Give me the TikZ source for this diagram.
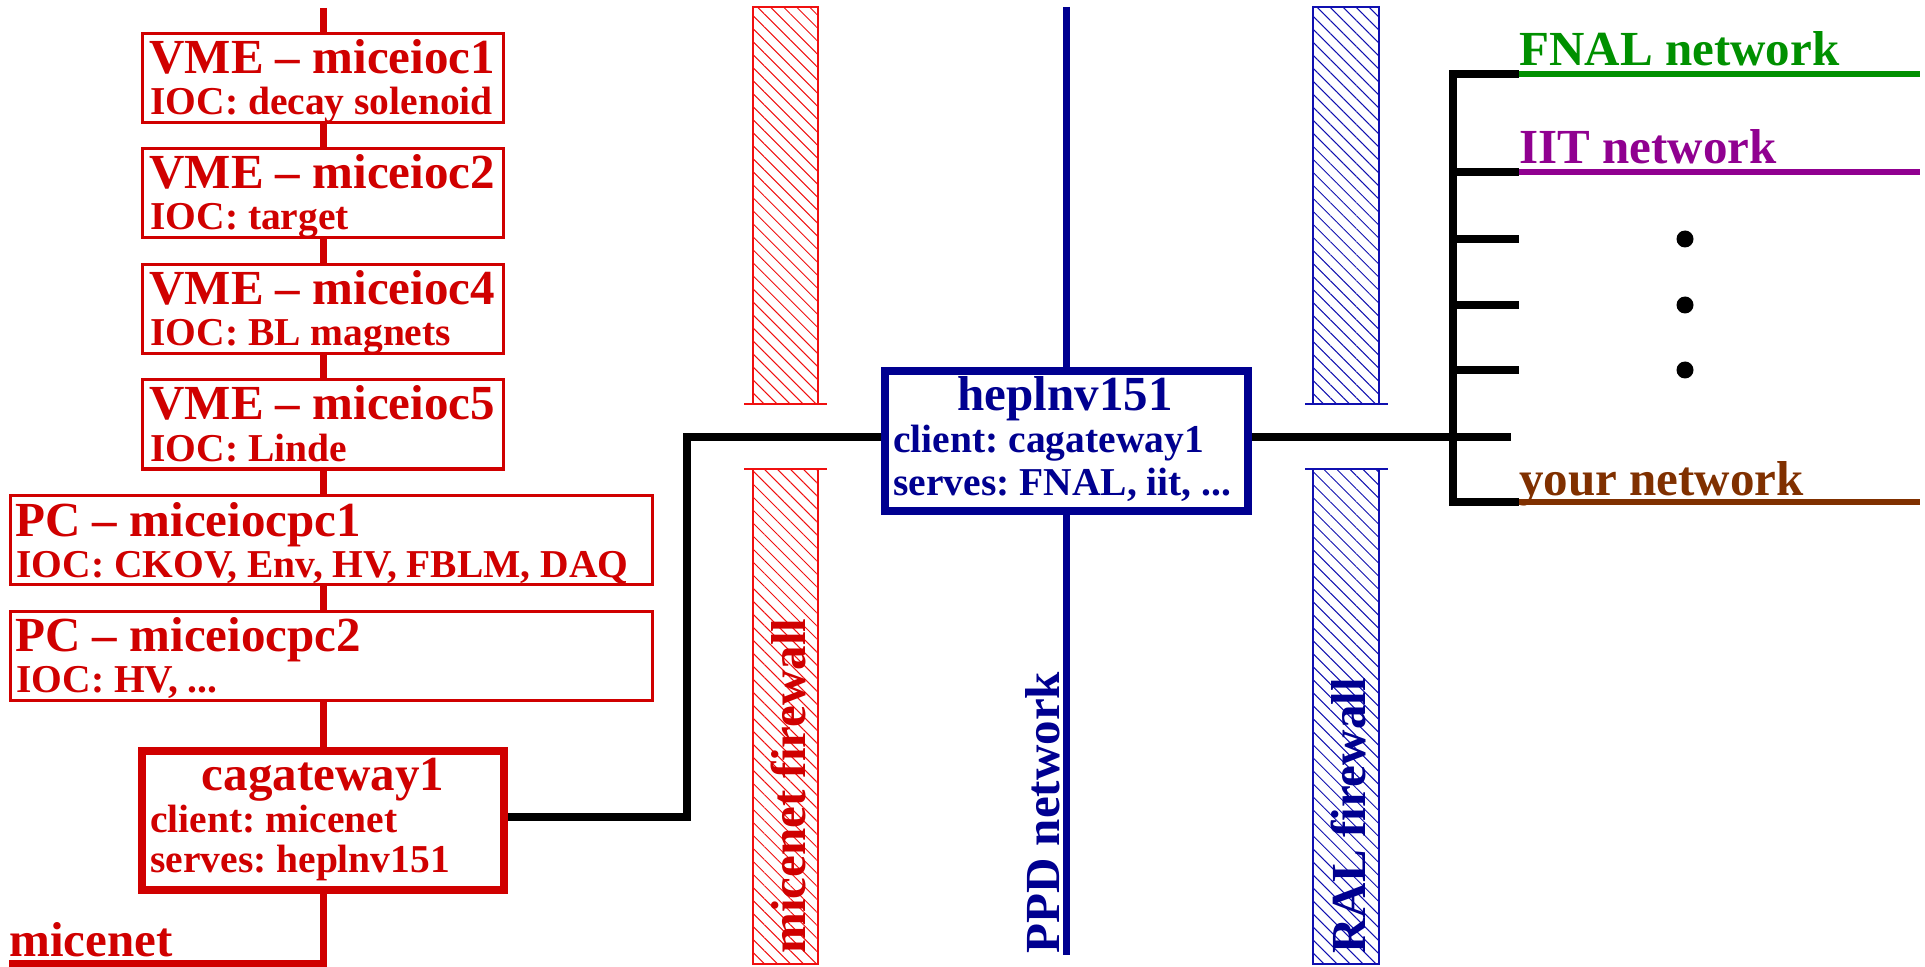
\documentclass[tikz,border=0pt]{standalone}
\usepackage{fontspec}
\setmainfont{Liberation Serif}
\usetikzlibrary{patterns.meta}
\frenchspacing

\definecolor{micered}{HTML}{D00000}
\definecolor{miceblue}{HTML}{000090}
\definecolor{hatchred}{HTML}{F01010}
\definecolor{hatchblue}{HTML}{1010B0}
\definecolor{fnalgreen}{HTML}{009000}
\definecolor{iitpurple}{HTML}{900090}
\definecolor{yourbrown}{HTML}{803000}

\newcommand\fbig{\fontsize{24.5}{29}\selectfont\bfseries}
\newcommand\fsmall{\fontsize{19.75}{24}\selectfont\bfseries}

\begin{document}
\begin{tikzpicture}[x=0.5pt,y=-0.5pt,
  fbig/.style={font=\fbig,inner sep=0pt},
  fsmall/.style={font=\fsmall,inner sep=0pt},
  iocbox/.style={draw=micered,line width=1.5pt,fill=white,minimum width=180.5pt,minimum height=44.5pt,inner sep=0pt},
  pcbox/.style={iocbox,minimum width=321pt},
  gwbox/.style={draw=micered,line width=4pt,fill=white,minimum width=181pt,minimum height=69.5pt,inner sep=0pt},
  hepbox/.style={draw=miceblue,line width=4pt,fill=white,minimum width=181.5pt,minimum height=70pt,inner sep=0pt},
  redbus/.style={draw=micered,line width=3.5pt},
  bluebus/.style={draw=miceblue,line width=3.5pt},
  link/.style={draw=black,line width=4pt},
  netline/.style={line width=3pt},
  fwred/.style={draw=hatchred,line width=1pt,pattern={Lines[angle=-45,distance=4.6pt,line width=0.5pt]},pattern color=hatchred},
  fwblue/.style={draw=hatchblue,line width=1pt,pattern={Lines[angle=-45,distance=4.6pt,line width=0.5pt]},pattern color=hatchblue},
  dot/.style={circle,fill=black,inner sep=0pt,minimum size=8.5pt}
]
\useasboundingbox (0,0) rectangle (1925,967);

% ---------- firewalls ----------
\draw[fwred] (753,7) rectangle (818,404);
\draw[hatchred,line width=1pt] (744,404) -- (827,404);
\draw[fwred] (753,469) rectangle (818,964);
\draw[hatchred,line width=1pt] (744,469) -- (827,469);

\draw[fwblue] (1313,7) rectangle (1379,404);
\draw[hatchblue,line width=1pt] (1305,404) -- (1388,404);
\draw[fwblue] (1313,469) rectangle (1379,964);
\draw[hatchblue,line width=1pt] (1305,469) -- (1388,469);

% ---------- micenet IOC boxes ----------
\node[iocbox] (ioc1) at (323,78) {};
\node[iocbox] (ioc2) at (323,193) {};
\node[iocbox] (ioc4) at (323,309) {};
\node[iocbox] (ioc5) at (323,424.5) {};
\node[pcbox] (pc1) at (331.5,540) {};
\node[pcbox] (pc2) at (331.5,655.5) {};
\node[gwbox] (gw) at (323,820.5) {};

\begin{scope}[text=micered]
\node[fbig,anchor=base west] (ioc1a) at (149,74) {VME – miceioc1};
\node[fsmall,anchor=base west] (ioc1b) at (150,115) {IOC: decay solenoid};
\node[fbig,anchor=base west] (ioc2a) at (149,189) {VME – miceioc2};
\node[fsmall,anchor=base west] (ioc2b) at (150,230) {IOC: target};
\node[fbig,anchor=base west] (ioc4a) at (149,305) {VME – miceioc4};
\node[fsmall,anchor=base west] (ioc4b) at (150,346) {IOC: BL magnets};
\node[fbig,anchor=base west] (ioc5a) at (149,420) {VME – miceioc5};
\node[fsmall,anchor=base west] (ioc5b) at (150,461) {IOC: Linde};
\node[fbig,anchor=base west] (pc1a) at (15,536) {PC – miceiocpc1};
\node[fsmall,anchor=base west] (pc1b) at (16,577) {IOC: CKOV, Env, HV, FBLM, DAQ};
\node[fbig,anchor=base west] (pc2a) at (15,651) {PC – miceiocpc2};
\node[fsmall,anchor=base west] (pc2b) at (16,692) {IOC: HV, ...};
\node[fbig,anchor=base] (gwa) at (323,790) {cagateway1};
\node[fsmall,anchor=base west] (gwb) at (150,832) {client: micenet};
\node[fsmall,anchor=base west] (gwc) at (150,872) {serves: heplnv151};
\node[fbig,anchor=base west] (micenet) at (9,956) {micenet};
\node[fbig,anchor=base west,rotate=90] (fwmice) at (805,954) {micenet firewall};
\end{scope}

% micenet backbone
\coordinate (bustop) at (323,8);
\coordinate (busbot) at (323,963.5);
\coordinate (netend) at (9,963.5);
\draw[redbus] (bustop) -- (ioc1.north);
\draw[redbus] (ioc1.south) -- (ioc2.north);
\draw[redbus] (ioc2.south) -- (ioc4.north);
\draw[redbus] (ioc4.south) -- (ioc5.north);
\draw[redbus] (ioc5.south) -- (ioc5.south |- pc1.north);
\draw[redbus] (ioc5.south |- pc1.south) -- (ioc5.south |- pc2.north);
\draw[redbus] (ioc5.south |- pc2.south) -- (gw.north);
\draw[redbus] (gw.south) -- (busbot) -- (netend);

% ---------- PPD network ----------
\node[hepbox] (hep) at (1066.5,441) {};
\begin{scope}[text=miceblue]
\node[fbig,anchor=base] (hepa) at (1065,411) {heplnv151};
\node[fsmall,anchor=base west] (hepb) at (893,452) {client: cagateway1};
\node[fsmall,anchor=base west] (hepc) at (893,495) {serves: FNAL, iit, ...};
\node[fbig,anchor=base west,rotate=90] (ppd) at (1059,954) {PPD network};
\node[fbig,anchor=base west,rotate=90] (fwral) at (1365,954) {RAL firewall};
\end{scope}
\coordinate (ppdtop) at (1066,7);
\coordinate (ppdbot) at (1066,955);
\draw[bluebus] (ppdtop) -- (ppdtop |- hep.north);
\draw[bluebus] (ppdbot |- hep.south) -- (ppdbot);

% ---------- gateway links ----------
\coordinate (j1) at (687,817);
\coordinate (j2) at (687,437);
\draw[link] (gw.east |- j1) -- (j1) -- (j2) -- (hep.west |- j2);
\coordinate (hubend) at (1511,437);
\draw[link] (hep.east |- j2) -- (hubend);

% ---------- outside networks ----------
\coordinate (btop) at (1453,74);
\coordinate (bbot) at (1453,502);
\coordinate (e1) at (1519,74);
\coordinate (e2) at (1519,172);
\coordinate (e3) at (1519,239);
\coordinate (e4) at (1519,305);
\coordinate (e5) at (1519,370);
\coordinate (e6) at (1519,502);
\coordinate (rim) at (1920,0);
\draw[link] (e1) -- (btop) -- (bbot) -- (e6);
\draw[link] (btop |- e2) -- (e2);
\draw[link] (btop |- e3) -- (e3);
\draw[link] (btop |- e4) -- (e4);
\draw[link] (btop |- e5) -- (e5);

\draw[netline,fnalgreen] (e1) -- (e1 -| rim);
\draw[netline,iitpurple] (e2) -- (e2 -| rim);
\draw[netline,yourbrown] (e6) -- (e6 -| rim);

\node[fbig,anchor=base west,text=fnalgreen] (fnal) at (1519,66) {FNAL network};
\node[fbig,anchor=base west,text=iitpurple] (iit) at (1519,164) {IIT network};
\node[fbig,anchor=base west,text=yourbrown] (your) at (1519,495) {your network};

\node[dot] (d1) at (1685,239) {};
\node[dot] (d2) at (1685,305) {};
\node[dot] (d3) at (1685,370) {};
\end{tikzpicture}
\end{document}
